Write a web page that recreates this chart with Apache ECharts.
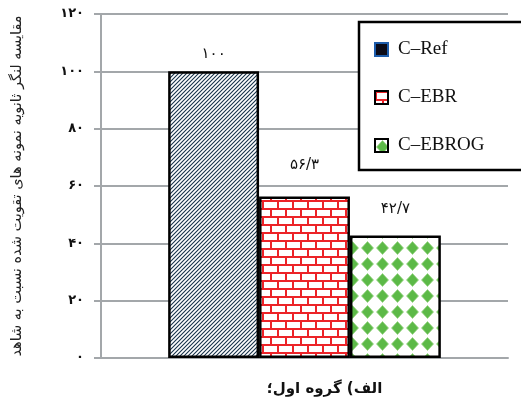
<!DOCTYPE html>
<html>
<head>
<meta charset="utf-8">
<script src="https://cdn.jsdelivr.net/npm/echarts@6/dist/echarts.min.js"></script>
<style>
  html, body { margin: 0; padding: 0; background: #fff; }
  #chart { width: 521px; height: 407px; }
</style>
</head>
<body>
<div id="chart"></div>
<script>
// Chart data
const categories = ['الف) گروه اول؛'];
const seriesNames = ['C–Ref', 'C–EBR', 'C–EBROG'];
const seriesValues = [100, 56.3, 42.7];
const yTicks = [0, 20, 40, 60, 80, 100, 120];
const yAxisTitle = 'مقایسه لنگر ثانویه نمونه های تقویت شده نسبت به شاهد';

// Persian digits with "/" as the decimal separator
const faDigits = '۰۱۲۳۴۵۶۷۸۹';
function toFa(v) {
  return String(v).replace(/[0-9]/g, d => faDigits[+d]).replace('.', '/');
}

// Fill patterns
function tile(w, h, draw) {
  const c = document.createElement('canvas');
  c.width = w; c.height = h;
  const ctx = c.getContext('2d');
  ctx.fillStyle = '#fff';
  ctx.fillRect(0, 0, w, h);
  draw(ctx);
  return c;
}
const hatch = tile(4, 4, ctx => {
  ctx.strokeStyle = '#17324a';
  ctx.lineWidth = 1.1;
  ctx.beginPath();
  ctx.moveTo(-1, 5); ctx.lineTo(5, -1);
  ctx.moveTo(-1, 1); ctx.lineTo(1, -1);
  ctx.moveTo(3, 5); ctx.lineTo(5, 3);
  ctx.stroke();
});
const brick = tile(30, 16, ctx => {
  ctx.fillStyle = '#ec2328';
  ctx.fillRect(0, 0, 30, 2);
  ctx.fillRect(0, 8, 30, 2);
  ctx.fillRect(0, 0, 2, 8);
  ctx.fillRect(15, 0, 2, 8);
  ctx.fillRect(7, 8, 2, 8);
  ctx.fillRect(22, 8, 2, 8);
});
const diamonds = tile(15, 16, ctx => {
  ctx.fillStyle = '#5cb947';
  ctx.beginPath();
  ctx.moveTo(7.5, 1.5); ctx.lineTo(13.5, 8); ctx.lineTo(7.5, 14.5); ctx.lineTo(1.5, 8);
  ctx.closePath();
  ctx.fill();
  ctx.strokeStyle = '#9ad486';
  ctx.lineWidth = 0.8;
  ctx.stroke();
});
const fills = [hatch, brick, diamonds].map(img => ({ image: img, repeat: 'repeat' }));
const legendStyles = [
  { color: '#0b0b18', borderColor: '#1d5cab', borderWidth: 2 },
  { color: fills[1], borderColor: '#000', borderWidth: 2 },
  { color: fills[2], borderColor: '#000', borderWidth: 2 }
];
const labelGaps = [10, 24, 19];

const gray = '#a3a7aa';
const chart = echarts.init(document.getElementById('chart'));
chart.setOption({
  animation: false,
  backgroundColor: '#fff',
  grid: { left: 101, right: 13, top: 14, bottom: 49 },
  legend: {
    orient: 'vertical',
    left: 359,
    top: 22,
    padding: [18, 80, 15, 15],
    itemGap: 29,
    itemWidth: 13,
    itemHeight: 13,
    borderColor: '#000',
    borderWidth: 2.5,
    backgroundColor: '#fff',
    textStyle: { fontFamily: 'Liberation Serif', fontSize: 19, color: '#111', padding: [0, 0, 0, 5] },
    data: seriesNames.map((n, i) => ({ name: n, icon: 'rect', itemStyle: legendStyles[i] }))
  },
  xAxis: {
    type: 'category',
    data: categories,
    axisLine: { lineStyle: { color: gray, width: 2 } },
    axisTick: { show: false },
    axisLabel: {
      margin: 24,
      padding: [0, 0, 0, 40],
      fontFamily: 'DejaVu Sans',
      fontWeight: 'bold',
      fontSize: 15,
      color: '#111'
    }
  },
  yAxis: {
    type: 'value',
    min: yTicks[0],
    max: yTicks[yTicks.length - 1],
    interval: yTicks[1] - yTicks[0],
    name: yAxisTitle,
    nameLocation: 'middle',
    nameGap: 76,
    nameTextStyle: { fontFamily: 'DejaVu Sans', fontSize: 14.5, color: '#222' },
    axisLine: { show: true, lineStyle: { color: gray, width: 2 } },
    axisTick: { show: true, length: 7, lineStyle: { color: gray, width: 2 } },
    splitLine: { lineStyle: { color: gray, width: 2 } },
    axisLabel: {
      margin: 17,
      fontFamily: 'DejaVu Sans',
      fontWeight: 'bold',
      fontSize: 13,
      color: '#111',
      formatter: v => toFa(v)
    }
  },
  series: seriesNames.map((n, i) => ({
    name: n,
    type: 'bar',
    barGap: 0,
    barCategoryGap: '33%',
    data: [{
      value: seriesValues[i],
      label: { distance: labelGaps[i] }
    }],
    itemStyle: { color: fills[i], borderColor: '#000', borderWidth: 2.5 },
    label: {
      show: true,
      position: 'top',
      fontFamily: 'DejaVu Sans',
      fontSize: 15,
      color: '#111',
      formatter: p => toFa(p.value)
    }
  }))
});
</script>
</body>
</html>
